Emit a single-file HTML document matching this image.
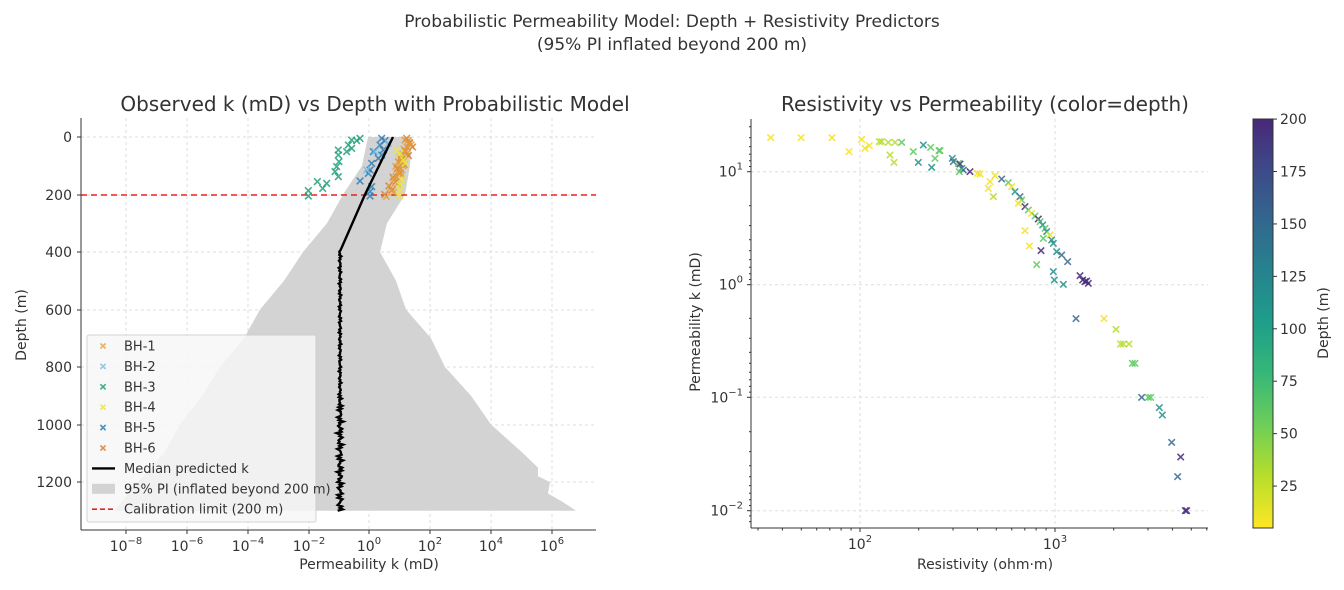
<!DOCTYPE html>
<html><head><meta charset="utf-8"><style>
body{margin:0;background:#fff;width:1344px;height:585px;overflow:hidden;font-family:"Liberation Sans","DejaVu Sans",sans-serif}
svg text{font-family:"DejaVu Sans","Liberation Sans",sans-serif;fill:#333}
</style></head><body>
<svg id="s" width="1344" height="585" xmlns="http://www.w3.org/2000/svg">
<defs><linearGradient id="vir" x1="0" y1="1" x2="0" y2="0">
<stop offset="0" stop-color="#fde725"/><stop offset="0.13" stop-color="#b5de2b"/><stop offset="0.25" stop-color="#6ece58"/><stop offset="0.38" stop-color="#35b779"/><stop offset="0.5" stop-color="#1f9e89"/><stop offset="0.63" stop-color="#26828e"/><stop offset="0.75" stop-color="#31688e"/><stop offset="0.88" stop-color="#3e4989"/><stop offset="1" stop-color="#482878"/></linearGradient></defs>
<text x="672" y="27" font-size="17" text-anchor="middle">Probabilistic Permeability Model: Depth + Resistivity Predictors</text>
<text x="672" y="50" font-size="17" text-anchor="middle">(95% PI inflated beyond 200 m)</text>
<text x="375" y="111" font-size="20" text-anchor="middle">Observed k (mD) vs Depth with Probabilistic Model</text>
<text x="985" y="111" font-size="20" text-anchor="middle">Resistivity vs Permeability (color=depth)</text>
<g id="L"></g><g id="R"></g>
<text x="369" y="569" font-size="14" text-anchor="middle">Permeability k (mD)</text>
<text x="985" y="569" font-size="14" text-anchor="middle">Resistivity (ohm·m)</text>
<text transform="translate(26,325) rotate(-90)" font-size="14" text-anchor="middle">Depth (m)</text>
<text transform="translate(700,322) rotate(-90)" font-size="14" text-anchor="middle">Permeability k (mD)</text>
<text transform="translate(1328,323) rotate(-90)" font-size="14" text-anchor="middle">Depth (m)</text>
</svg>
<script>
const NS="http://www.w3.org/2000/svg";
function el(p,t,a,txt){const e=document.createElementNS(NS,t);for(const k in a)e.setAttribute(k,a[k]);if(txt!==undefined)e.textContent=txt;p.appendChild(e);return e;}
const L=document.getElementById('L'),R=document.getElementById('R');
function X(p,x,y,c,s,o){s=s||3.3;el(p,'path',{d:`M${x-s},${y-s}L${x+s},${y+s}M${x-s},${y+s}L${x+s},${y-s}`,stroke:c,'stroke-width':1.6,opacity:o||0.85,fill:'none'});}
// LEFT grid
const lx=[126,187,248,309,369,430,491,552];
const ly=[137,195,252,310,367,425,482];
lx.forEach(x=>el(L,'line',{x1:x,y1:118,x2:x,y2:530,stroke:'#ddd','stroke-dasharray':'3,3'}));
ly.forEach(y=>el(L,'line',{x1:81,y1:y,x2:596,y2:y,stroke:'#ddd','stroke-dasharray':'3,3'}));
// fill polygon
const lb=[[0,370],[100,360],[200,345],[300,325],[400,305],[500,282],[600,262],[700,242],[800,222],[900,200],[1000,182],[1100,162],[1200,140],[1300,112]];
const rb=[[0,412],[100,410],[200,405],[300,384],[400,382],[500,393],[600,408],[700,428],[800,447],[900,468],[1000,493],[1100,520],[1150,540],[1180,535],[1200,552],[1240,545],[1270,565],[1300,573]];
function yd(d){return 137+d*0.2875;}
let pts=[];
rb.forEach((p,i)=>{let jit=(i%2?3:-2);pts.push([p[1]+(i>2?jit:0),yd(p[0])]);});
for(let i=lb.length-1;i>=0;i--){pts.push([lb[i][1]+(i%2?2:-2),yd(lb[i][0])]);}
el(L,'polygon',{points:pts.map(p=>p.join(',')).join(' '),fill:'#d3d3d3'});
// calibration line
el(L,'line',{x1:81,y1:195,x2:596,y2:195,stroke:'#e8231f','stroke-width':1.6,'stroke-dasharray':'6,4'});
// scatter left
const G3=[[815,60],[830,62],[840,55],[805,75],[815,85],[800,95],[775,90],[775,105],[777,125],[770,140],[765,155],[775,170],[712,185],[740,190],[728,205],[685,212],[685,228]];
G3.forEach(p=>X(L,80+p[0]/3,120+p[1]/3,'#22a07a'));
const B5=[[905,55],[915,62],[900,75],[910,90],[880,95],[905,105],[895,115],[875,130],[870,150],[865,160],[840,183],[875,200],[870,215],[870,228]];
B5.forEach(p=>X(L,80+p[0]/3,120+p[1]/3,'#2f7fb5'));
[[885,95],[925,70],[860,150]].forEach(p=>X(L,80+p[0]/3,120+p[1]/3,'#7fc1e8'));
for(let i=0;i<28;i++){let t=i/27;let zy=55+t*175;let zx=995-t*70+((i*37)%30-15);X(L,80+zx/3,120+zy/3,i%2?'#e8a33a':'#d97f30');}
for(let i=0;i<12;i++){let t=i/11;let zy=60+t*120;let zx=985-t*40+((i*17)%20-10);X(L,80+zx/3,120+zy/3,'#e09a3a');}
[[960,100],[965,180],[960,195],[960,210],[958,228],[970,120],[950,90],[975,130]].forEach(p=>X(L,80+p[0]/3,120+p[1]/3,'#ece440'));
// median
let md=[];
for(let d=0;d<=1300;d+=5){let x;if(d<=200)x=393-28*d/200;else if(d<=390)x=365-(d-200)/190*24;else{x=340+Math.sin(d*0.7)*(d>900?1.8:0.8)+Math.sin(d*0.23)*(d>950?1.5:0.6);}md.push([x,yd(d)]);}
el(L,'polyline',{points:md.map(p=>p.join(',')).join(' '),fill:'none',stroke:'#000','stroke-width':2.4});
// axes
el(L,'line',{x1:81,y1:118,x2:81,y2:530,stroke:'#333','stroke-width':1});
el(L,'line',{x1:81,y1:530,x2:596,y2:530,stroke:'#333','stroke-width':1});
const lyl=[0,200,400,600,800,1000,1200];
ly.forEach((y,i)=>{el(L,'line',{x1:77,y1:y,x2:81,y2:y,stroke:'#333'});el(L,'text',{x:72,y:y+5,'font-size':14,'text-anchor':'end'},lyl[i]);});
const le=['−8','−6','−4','−2','0','2','4','6'];
lx.forEach((x,i)=>{el(L,'line',{x1:x,y1:530,x2:x,y2:534,stroke:'#333'});const t=el(L,'text',{x:x,y:551,'font-size':14,'text-anchor':'middle'});el(t,'tspan',{},'10');el(t,'tspan',{dy:-7,'font-size':10},le[i]);});
// legend
el(L,'rect',{x:87,y:335,width:229,height:187,fill:'#f7f7f7',stroke:'#ccc',opacity:0.85,rx:2});
const leg=[['BH-1','#e8a33a'],['BH-2','#7fc1e8'],['BH-3','#22a07a'],['BH-4','#ece440'],['BH-5','#2f7fb5'],['BH-6','#d97f30']];
leg.forEach((l,i)=>{let y=346+i*20.4;X(L,103,y,l[1],2.6);el(L,'text',{x:124,y:y+4.5,'font-size':13},l[0]);});
let y0=346+6*20.4;
el(L,'line',{x1:92,y1:y0,x2:115,y2:y0,stroke:'#000','stroke-width':2.4});el(L,'text',{x:124,y:y0+4.5,'font-size':13},'Median predicted k');
y0+=20.4;el(L,'rect',{x:92,y:y0-5,width:23,height:10,fill:'#d3d3d3'});el(L,'text',{x:124,y:y0+4.5,'font-size':13},'95% PI (inflated beyond 200 m)');
y0+=20.4;el(L,'line',{x1:92,y1:y0,x2:115,y2:y0,stroke:'#e8231f','stroke-width':1.6,'stroke-dasharray':'5,3'});el(L,'text',{x:124,y:y0+4.5,'font-size':13},'Calibration limit (200 m)');
// RIGHT
const rx=[860,1055],ryy=[171.7,284.7,397.3,510.7];
rx.forEach(x=>el(R,'line',{x1:x,y1:119,x2:x,y2:527,stroke:'#ddd','stroke-dasharray':'3,3'}));
ryy.forEach(y=>el(R,'line',{x1:751,y1:y,x2:1208,y2:y,stroke:'#ddd','stroke-dasharray':'3,3'}));
const C={Y:'#f5e023',L:'#b5de2b',G:'#5ec962',T:'#21918c',B:'#3b6a8f',P:'#472a7a'};
const rp="92,83,Y 183,83,Y 276,83,Y 365,88,Y 327,125,Y 375,115,Y 388,107,Y 418,95,L 425,95,L 445,97,L 465,97,L 485,97,G 450,135,L 462,157,L 520,125,G 535,157,T 550,105,T 572,112,G 575,172,T 585,145,G 597,122,G 600,122,G 637,145,T 640,155,B 655,160,G 660,162,P 665,175,T 670,180,B 690,185,P 658,185,G 712,190,Y 720,192,Y 750,215,Y 745,235,Y 760,260,L 765,197,Y 785,207,B 805,218,G 815,230,Y 825,245,T 840,260,B 845,270,G 835,280,Y 855,290,P 865,300,G 875,310,Y 885,318,G 895,327,P 900,335,G 908,345,T 915,355,G 920,365,T 930,375,Y 935,390,T 940,400,T 910,385,G 855,362,Y 868,408,Y 903,422,P 890,464,G 950,425,T 965,435,B 983,455,B 940,485,T 943,510,T 970,523,T 1020,497,P 1028,510,P 1035,515,P 1045,520,P 1040,513,P 1008,626,B 1092,626,Y 1128,658,L 1142,702,L 1150,702,L 1167,702,L 1177,760,G 1185,760,G 1205,862,B 1225,862,G 1232,862,G 1258,893,T 1267,915,T 1295,997,B 1322,1041,P 1313,1100,B 1340,1202,P 1336,1202,P";
rp.split(' ').forEach(s=>{const a=s.split(',');X(R,740+a[0]/3,110+a[1]/3,C[a[2]],3.2);});
el(R,'line',{x1:751,y1:119,x2:751,y2:528,stroke:'#333'});
el(R,'line',{x1:751,y1:528,x2:1208,y2:528,stroke:'#333'});
const re=['1','0','−1','−2'];
ryy.forEach((y,i)=>{el(R,'line',{x1:747,y1:y,x2:751,y2:y,stroke:'#333'});const t=el(R,'text',{x:743,y:y+5,'font-size':14,'text-anchor':'end'});el(t,'tspan',{},'10');el(t,'tspan',{dy:-7,'font-size':10},re[i]);
 for(let m=2;m<10;m++){let yy=y+113*Math.log10(m)-113;if(yy>119&&yy<528)el(R,'line',{x1:749,y1:yy,x2:751,y2:yy,stroke:'#333'});}});
for(let m=2;m<10;m++){let yy=510.7+113-113*Math.log10(m);if(yy<528)el(R,'line',{x1:749,y1:yy,x2:751,y2:yy,stroke:'#333'});}
[['2',860],['3',1055]].forEach(a=>{el(R,'line',{x1:a[1],y1:528,x2:a[1],y2:532,stroke:'#333'});const t=el(R,'text',{x:a[1],y:549,'font-size':14,'text-anchor':'middle'});el(t,'tspan',{},'10');el(t,'tspan',{dy:-7,'font-size':10},a[0]);});
[665,860,1055].forEach(b=>{for(let m=2;m<10;m++){let x=b+195*Math.log10(m);if(x>751&&x<1208)el(R,'line',{x1:x,y1:528,x2:x,y2:530.5,stroke:'#333'});}});
// colorbar
el(R,'rect',{x:1253,y:119,width:20,height:409,fill:'url(#vir)',stroke:'#333'});
[25,50,75,100,125,150,175,200].forEach(v=>{let y=528-(v-5)*2.097;el(R,'line',{x1:1273,y1:y,x2:1277,y2:y,stroke:'#333'});el(R,'text',{x:1280,y:y+5,'font-size':14},v);});
</script>
</body></html>
